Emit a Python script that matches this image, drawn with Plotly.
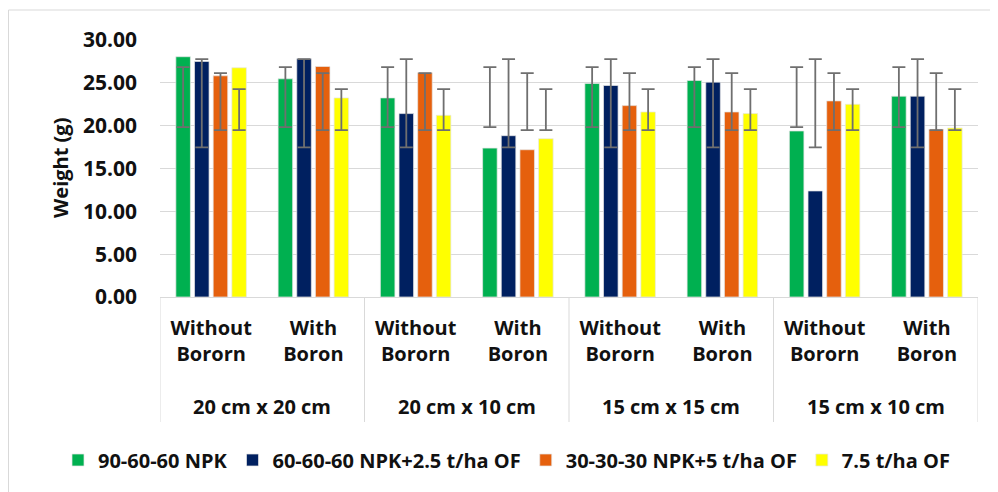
import plotly.graph_objects as go

# ---- data ----
sub_labels = ["Without<br>Bororn", "With<br>Boron"] * 4
group_labels = ["20 cm x 20 cm", "20 cm x 10 cm", "15 cm x 15 cm", "15 cm x 10 cm"]
series_names = ["90-60-60 NPK", "60-60-60 NPK+2.5 t/ha OF", "30-30-30 NPK+5 t/ha OF", "7.5 t/ha OF"]

npk_90 = [28.05, 25.47, 23.24, 17.38, 24.92, 25.27, 19.38, 23.44]
npk_60_of = [27.50, 27.81, 21.41, 18.83, 24.69, 25.08, 12.38, 23.44]
npk_30_of = [25.82, 26.91, 26.17, 17.19, 22.34, 21.60, 22.89, 19.57]
of_75 = [26.76, 23.24, 21.21, 18.48, 21.60, 21.41, 22.50, 19.73]

# error bar ends (low, high) per series
err_90 = (19.84, 26.84)
err_60 = (17.46, 27.77)
err_30 = (19.49, 26.13)
err_75 = (19.49, 24.26)

y_ticks = [0, 5, 10, 15, 20, 25, 30]

colors = ["#00b050", "#002060", "#e5600d", "#ffff00"]
FONT = "Open Sans"
TXT = "#111111"

values = [npk_90, npk_60_of, npk_30_of, of_75]
errs = [err_90, err_60, err_30, err_75]
x = list(range(len(sub_labels)))

fig = go.Figure()
for name, vals, (lo, hi), col in zip(series_names, values, errs, colors):
    fig.add_trace(go.Bar(
        x=x, y=vals, name=name,
        marker=dict(color=col, line=dict(color="rgba(230,230,230,0.9)", width=0.8)),
        error_y=dict(type="data", symmetric=False,
                     array=[hi - v for v in vals],
                     arrayminus=[v - lo for v in vals],
                     color="#6f6f6f", thickness=1.8, width=6.5),
    ))

# page is offset by the body margin (8px); work in page pixels
OFF = 8
W, H = 990, 484
PL, PR, PT, PB = 160, 978, 40, 297   # plot area in page pixels
L, R, T, B = PL - OFF, W - (PR - OFF), PT - OFF, H - (PB - OFF)
pw, ph = PR - PL, PB - PT
def px(xp):
    return (xp - PL) / pw
def py(yp):
    return (PB - yp) / ph

shapes = []
for xv in [-0.5, 1.5, 3.5, 5.5, 7.5]:
    shapes.append(dict(type="line", xref="x", yref="paper", x0=xv, x1=xv,
                       y0=0, y1=py(422), line=dict(color="#d9d9d9", width=1)))
# chart border
shapes.append(dict(type="rect", xref="paper", yref="paper",
                   x0=px(8.5), x1=px(1010), y0=py(10), y1=py(510),
                   line=dict(color="#d9d9d9", width=1), layer="below"))

annotations = []
for i, g in enumerate(group_labels):
    annotations.append(dict(text=g, x=2 * i + 0.5, xref="x", y=py(406), yref="paper",
                            showarrow=False, xanchor="center", yanchor="middle",
                            font=dict(family=FONT, size=20, color=TXT, weight="bold")))
annotations.append(dict(text="Weight (g)", textangle=-90, x=px(60), xref="paper",
                        y=py(168), yref="paper", showarrow=False,
                        xanchor="center", yanchor="middle",
                        font=dict(family=FONT, size=20, color=TXT, weight="bold")))

fig.update_layout(
    width=W, height=H,
    margin=dict(l=L, r=R, t=T, b=B, autoexpand=False),
    paper_bgcolor="white", plot_bgcolor="white",
    barmode="group", bargap=0.27, bargroupgap=0.22,
    showlegend=True,
    legend=dict(orientation="h", x=px(58), xanchor="left", y=py(460), yanchor="middle",
                font=dict(family=FONT, size=20, color=TXT, weight="bold"),
                itemwidth=30, traceorder="normal"),
    shapes=shapes, annotations=annotations,
    xaxis=dict(range=[-0.5, 7.5], tickmode="array", tickvals=x, ticktext=sub_labels,
               showgrid=False, zeroline=False, showline=True, linecolor="#d9d9d9",
               ticks="", ticklabelstandoff=13,
               tickfont=dict(family=FONT, size=20, color=TXT, weight="bold")),
    yaxis=dict(range=[0, 30], tickvals=y_ticks, tickformat=".2f",
               showgrid=True, gridcolor="#d9d9d9", gridwidth=1,
               zeroline=False, showline=False, ticks="", ticklabelstandoff=22,
               tickfont=dict(family=FONT, size=21, color=TXT, weight="bold")),
)

fig.write_html("out.html")
